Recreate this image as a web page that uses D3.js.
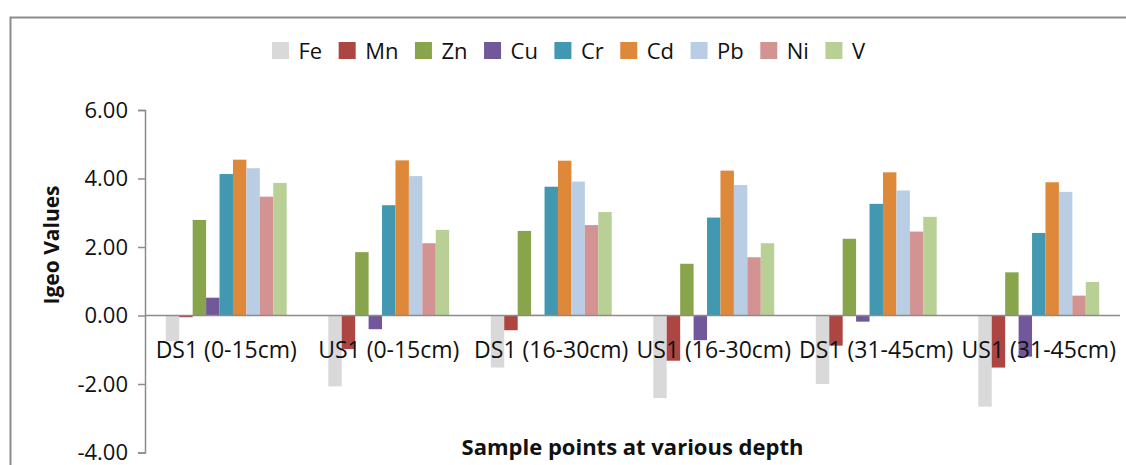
<!DOCTYPE html>
<html>
<head>
<meta charset="utf-8">
<script src="https://cdn.jsdelivr.net/npm/d3@7"></script>
<style>
  html, body { margin: 0; padding: 0; background: #fff; }
  svg { display: block; font-family: "Open Sans", "Noto Sans", sans-serif; }
</style>
</head>
<body>
<svg id="chart" width="1126" height="465"></svg>
<script>
// Sample points (x categories)
const CATEGORIES = [
  "DS1 (0-15cm)", "US1 (0-15cm)", "DS1 (16-30cm)",
  "US1 (16-30cm)", "DS1 (31-45cm)", "US1 (31-45cm)",
];

// Metals (series), in legend order
const METALS = ["Fe", "Mn", "Zn", "Cu", "Cr", "Cd", "Pb", "Ni", "V"];

const METAL_COLORS = [
  "#d9d9d9", "#ad4542", "#89a54c", "#71589a", "#4298b0",
  "#de8839", "#b9cde5", "#d39393", "#b8cf96",
];

// Igeo values per metal, one per sample point
const FE = [-0.75, -2.07, -1.52, -2.41, -2.00, -2.66];
const MN = [-0.05, -0.98, -0.43, -1.32, -0.88, -1.52];
const ZN = [2.79, 1.85, 2.47, 1.51, 2.24, 1.26];
const CU = [0.52, -0.40, 0.02, -0.72, -0.18, -1.20];
const CR = [4.13, 3.22, 3.76, 2.86, 3.26, 2.41];
const CD = [4.55, 4.53, 4.52, 4.23, 4.18, 3.89];
const PB = [4.30, 4.07, 3.91, 3.81, 3.65, 3.61];
const NI = [3.47, 2.11, 2.64, 1.70, 2.45, 0.58];
const V = [3.87, 2.50, 3.02, 2.11, 2.88, 0.98];

const SERIES = [FE, MN, ZN, CU, CR, CD, PB, NI, V];

const Y_TICKS = [-4, -2, 0, 2, 4, 6];

// ─────────────────────────────────────────────────────────────
// Layout
// ─────────────────────────────────────────────────────────────

const svg = d3.select("#chart");
const plot = { left: 145, right: 1120, top: 110, bottom: 452.5 };

const x0 = d3.scaleBand()
  .domain(CATEGORIES)
  .range([plot.left, plot.right])
  .padding(0);

const x1 = d3.scaleBand()
  .domain(METALS)
  .range([x0.bandwidth() * 0.128, x0.bandwidth() * 0.872])
  .padding(0);

const y = d3.scaleLinear().domain([-4, 6]).range([plot.bottom, plot.top]);

const color = d3.scaleOrdinal().domain(METALS).range(METAL_COLORS);

// plain hyphen for negatives, like the spreadsheet did
const fmt = d3.formatLocale({ decimal: ".", thousands: ",", grouping: [3], currency: ["", ""], minus: "-" }).format(".2f");

// Outer chart frame (runs off the picture at right and bottom)
svg.append("path")
  .attr("d", "M10.5,475 L10.5,17.5 L1140,17.5")
  .attr("fill", "none")
  .attr("stroke", "#8c8c8c")
  .attr("stroke-width", 2);

// ─────────────────────────────────────────────────────────────
// Bars
// ─────────────────────────────────────────────────────────────

const rows = CATEGORIES.map((cat, i) => ({
  cat,
  values: METALS.map((m, j) => ({ metal: m, value: SERIES[j][i] })),
}));

svg.append("g")
  .selectAll("g")
  .data(rows)
  .join("g")
  .attr("transform", (d) => `translate(${x0(d.cat)},0)`)
  .selectAll("rect")
  .data((d) => d.values)
  .join("rect")
  .attr("x", (d) => x1(d.metal))
  .attr("width", x1.bandwidth())
  .attr("y", (d) => y(Math.max(0, d.value)))
  .attr("height", (d) => Math.abs(y(d.value) - y(0)))
  .attr("fill", (d) => color(d.metal));

// ─────────────────────────────────────────────────────────────
// Axes
// ─────────────────────────────────────────────────────────────

const yAxis = svg.append("g")
  .attr("transform", `translate(${plot.left},0)`)
  .call(d3.axisLeft(y).tickValues(Y_TICKS).tickFormat(fmt).tickSize(7).tickPadding(10));

yAxis.select(".domain").attr("stroke", "#8c8c8c").attr("stroke-width", 1.5);
yAxis.selectAll(".tick line").attr("stroke", "#8c8c8c").attr("stroke-width", 1.5);
yAxis.selectAll(".tick text")
  .attr("fill", "#111")
  .style("font-size", "22px")
  .style("font-family", "'Open Sans', sans-serif");

// Zero line (category axis)
svg.append("line")
  .attr("x1", plot.left)
  .attr("x2", plot.right)
  .attr("y1", y(0))
  .attr("y2", y(0))
  .attr("stroke", "#8c8c8c")
  .attr("stroke-width", 1.5);

// Category labels, drawn over the bars
svg.append("g")
  .selectAll("text")
  .data(CATEGORIES)
  .join("text")
  .attr("x", (d) => x0(d) + x0.bandwidth() / 2)
  .attr("y", 358)
  .attr("text-anchor", "middle")
  .attr("fill", "#111")
  .style("font-size", "23px")
  .text((d) => d);

// Axis titles
svg.append("text")
  .attr("transform", "translate(59,245) rotate(-90)")
  .attr("text-anchor", "middle")
  .attr("font-weight", "bold")
  .attr("fill", "#111")
  .style("font-size", "21px")
  .text("Igeo Values");

svg.append("text")
  .attr("x", (plot.left + plot.right) / 2)
  .attr("y", 455)
  .attr("text-anchor", "middle")
  .attr("font-weight", "bold")
  .attr("fill", "#111")
  .style("font-size", "22px")
  .text("Sample points at various depth");

// ─────────────────────────────────────────────────────────────
// Legend
// ─────────────────────────────────────────────────────────────

const legend = svg.append("g");
let cursor = 0;
METALS.forEach((m) => {
  const item = legend.append("g").attr("transform", `translate(${cursor},0)`);
  item.append("rect")
    .attr("x", 0)
    .attr("y", 42)
    .attr("width", 17)
    .attr("height", 17)
    .attr("fill", color(m));
  const t = item.append("text")
    .attr("x", 26.5)
    .attr("y", 58.5)
    .attr("fill", "#111")
    .style("font-size", "22px")
    .text(m);
  cursor += 26.5 + t.node().getComputedTextLength() + 16.5;
});
const legendWidth = cursor - 16.5;
legend.attr("transform", `translate(${568.5 - legendWidth / 2},0)`);
</script>
</body>
</html>
